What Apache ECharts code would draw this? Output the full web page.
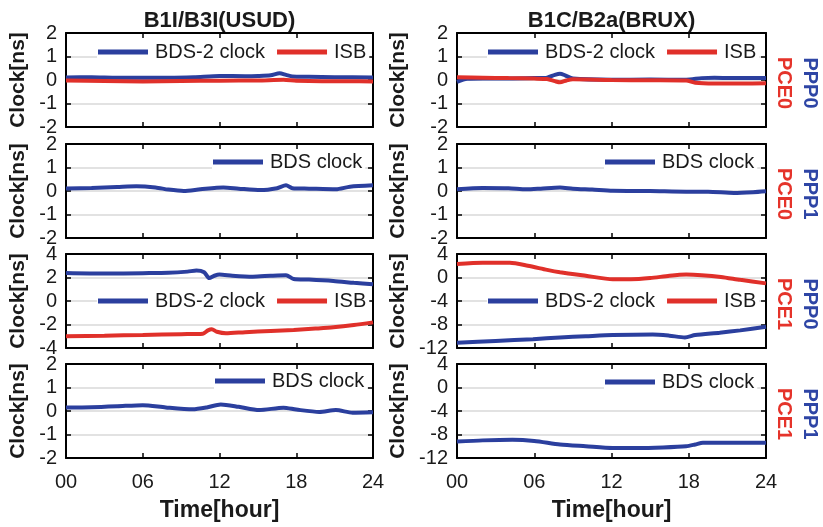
<!DOCTYPE html>
<html><head><meta charset="utf-8">
<script src="https://cdn.jsdelivr.net/npm/echarts@6/dist/echarts.min.js"></script>
<style>html,body{margin:0;padding:0;background:#fff}#c{width:823px;height:527px}</style>
</head><body><div id="c"></div>
<script>
// ---------- data ----------
const xTickLabels = ['00', '06', '12', '18', '24'];
const colTitles = ['B1I/B3I(USUD)', 'B1C/B2a(BRUX)'];
const rowTagsRed = ['PCE0', 'PCE0', 'PCE1', 'PCE1'];
const rowTagsBlue = ['PPP0', 'PPP1', 'PPP0', 'PPP1'];

// row 1 (PPP0-PCE0), left column
const r1lBdsH = [0, 2, 4, 6, 8, 10, 12, 14, 15, 16, 16.7, 17.2, 17.7, 19, 21, 24];
const r1lBdsV = [0.11, 0.12, 0.10, 0.10, 0.10, 0.12, 0.17, 0.16, 0.17, 0.20, 0.29, 0.22, 0.15, 0.14, 0.12, 0.11];
const r1lIsbH = [0, 3, 6, 9, 12, 15, 17, 18, 20, 22, 24];
const r1lIsbV = [-0.02, -0.04, -0.06, -0.04, -0.03, -0.02, 0.01, -0.03, -0.05, -0.05, -0.06];
// row 1, right column
const r1rBdsH = [0, 0.8, 2, 4, 6, 7, 7.6, 8, 8.4, 9, 12, 15, 17.8, 19, 20, 22, 24];
const r1rBdsV = [-0.08, 0.05, 0.06, 0.06, 0.08, 0.10, 0.22, 0.27, 0.20, 0.06, 0.01, 0.02, 0.01, 0.08, 0.10, 0.08, 0.09];
const r1rIsbH = [0, 2, 4, 6, 7, 7.6, 8, 8.5, 9, 12, 15, 17.8, 18.5, 20, 22, 24];
const r1rIsbV = [0.12, 0.10, 0.08, 0.06, 0.04, -0.05, -0.10, -0.02, 0.03, 0.0, -0.01, -0.02, -0.12, -0.15, -0.15, -0.14];
// row 2 (PPP1-PCE0)
const r2lBdsH = [0, 2, 4, 5.5, 7, 8, 9.2, 10.5, 12.3, 13.5, 15.2, 16.5, 17.2, 17.7, 19, 21.1, 22.2, 24];
const r2lBdsV = [0.11, 0.13, 0.17, 0.20, 0.15, 0.06, 0.0, 0.07, 0.15, 0.10, 0.04, 0.12, 0.24, 0.12, 0.10, 0.07, 0.18, 0.24];
const r2rBdsH = [0, 2, 4, 5.4, 6.5, 8, 9, 10.5, 12.1, 15, 17.8, 19.5, 21.5, 23, 24];
const r2rBdsV = [0.07, 0.13, 0.12, 0.07, 0.10, 0.15, 0.10, 0.06, 0.01, 0.0, -0.03, -0.03, -0.08, -0.05, -0.01];
// row 3 (PPP0-PCE1)
const r3lBdsH = [0, 3, 6, 8, 9.5, 10.2, 10.8, 11.2, 11.6, 12, 13, 14.6, 16, 17.2, 17.8, 19, 20.9, 22.5, 24];
const r3lBdsV = [2.38, 2.33, 2.37, 2.40, 2.50, 2.60, 2.45, 1.95, 2.15, 2.25, 2.15, 2.07, 2.15, 2.20, 1.87, 1.82, 1.70, 1.55, 1.42];
const r3lIsbH = [0, 3, 6, 9, 10.7, 11.1, 11.4, 11.8, 12.5, 14, 16, 17.8, 19.5, 20.9, 22.5, 24];
const r3lIsbV = [-3.0, -2.95, -2.89, -2.82, -2.78, -2.5, -2.41, -2.62, -2.75, -2.65, -2.55, -2.47, -2.35, -2.24, -2.05, -1.82];
const r3rBdsH = [0, 3, 5.9, 8, 10, 12.1, 15.2, 16.5, 17.7, 18.5, 20.4, 22, 24];
const r3rBdsV = [-11.1, -10.8, -10.5, -10.2, -10.0, -9.8, -9.7, -9.9, -10.2, -9.8, -9.4, -9.0, -8.4];
const r3rIsbH = [0, 2, 4.1, 5.5, 7, 8, 10, 12.1, 13.5, 15, 16.5, 17.8, 19, 20.5, 22, 24];
const r3rIsbV = [2.3, 2.5, 2.5, 2.0, 1.3, 0.9, 0.3, -0.3, -0.3, -0.1, 0.3, 0.5, 0.4, 0.1, -0.4, -1.0];
// row 4 (PPP1-PCE1)
const r4lBdsH = [0, 2, 4, 6, 7.8, 9.9, 11, 12.1, 13.5, 15.1, 17, 18, 19.8, 21.1, 22.4, 24];
const r4lBdsV = [0.15, 0.16, 0.20, 0.25, 0.15, 0.07, 0.15, 0.28, 0.18, 0.04, 0.14, 0.06, -0.04, 0.04, -0.07, -0.05];
const r4rBdsH = [0, 2, 4.3, 6, 8, 10, 12.1, 14, 16, 17.8, 18.5, 19.1, 21, 24];
const r4rBdsV = [-9.2, -9.0, -8.9, -9.1, -9.7, -10.0, -10.3, -10.3, -10.2, -10.0, -9.7, -9.4, -9.4, -9.4];

// y axis ranges per panel [min, max, interval]
const yRangeSmall = [-2, 2, 1];
const yRangeMid = [-4, 4, 2];
const yRangeBig = [-12, 4, 4];

// ---------- layout / style ----------
const BLUE = '#2b3f9e', RED = '#e0302a', TXT = '#1a1a1a';
const FONT = '"Liberation Sans", Arial, Helvetica, sans-serif';
const colLeft = [66, 457], colWidth = [307, 309];
const rowTop = [33, 144, 254, 364], rowH = 94;

const zip = (h, v) => h.map((x, i) => [x, v[i]]);

const panels = [
  { r: 0, c: 0, y: yRangeSmall, series: [['BDS-2 clock', BLUE, r1lBdsH, r1lBdsV], ['ISB', RED, r1lIsbH, r1lIsbV]], leg: [98, 52] },
  { r: 0, c: 1, y: yRangeSmall, series: [['BDS-2 clock', BLUE, r1rBdsH, r1rBdsV], ['ISB', RED, r1rIsbH, r1rIsbV]], leg: [488, 52] },
  { r: 1, c: 0, y: yRangeSmall, series: [['BDS clock', BLUE, r2lBdsH, r2lBdsV]], leg: [213, 162] },
  { r: 1, c: 1, y: yRangeSmall, series: [['BDS clock', BLUE, r2rBdsH, r2rBdsV]], leg: [605, 162] },
  { r: 2, c: 0, y: yRangeMid, series: [['BDS-2 clock', BLUE, r3lBdsH, r3lBdsV], ['ISB', RED, r3lIsbH, r3lIsbV]], leg: [98, 301] },
  { r: 2, c: 1, y: yRangeBig, series: [['BDS-2 clock', BLUE, r3rBdsH, r3rBdsV], ['ISB', RED, r3rIsbH, r3rIsbV]], leg: [488, 301] },
  { r: 3, c: 0, y: yRangeSmall, series: [['BDS clock', BLUE, r4lBdsH, r4lBdsV]], leg: [215, 381] },
  { r: 3, c: 1, y: yRangeBig, series: [['BDS clock', BLUE, r4rBdsH, r4rBdsV]], leg: [605, 382] }
];

const grid = [], xAxis = [], yAxis = [], series = [], legend = [], graphic = [];
const axLine = { show: true, onZero: false, lineStyle: { color: '#000', width: 2 } };
const tick = { show: true, inside: true, length: 5, lineStyle: { color: '#000', width: 1.5 } };

panels.forEach((p, i) => {
  grid.push({ left: colLeft[p.c], top: rowTop[p.r], width: colWidth[p.c], height: rowH, containLabel: false, outerBoundsMode: 'none' });
  const bottomRow = p.r === 3;
  xAxis.push({
    type: 'value', gridIndex: i, min: 0, max: 24, interval: 6, position: 'bottom',
    axisLine: axLine, axisTick: tick, splitLine: { show: false },
    axisLabel: { show: bottomRow, fontSize: 20, color: TXT, fontFamily: FONT, margin: 14,
      formatter: v => xTickLabels[Math.round(v / 6)] },
    name: bottomRow ? 'Time[hour]' : '', nameLocation: 'middle', nameGap: 41,
    nameTextStyle: { fontSize: 23, fontWeight: 'bold', color: TXT, fontFamily: FONT }
  });
  xAxis.push({
    type: 'value', gridIndex: i, min: 0, max: 24, interval: 6, position: 'top',
    axisLine: axLine, axisTick: tick, splitLine: { show: false }, axisLabel: { show: false }
  });
  yAxis.push({
    type: 'value', gridIndex: i, min: p.y[0], max: p.y[1], interval: p.y[2], position: 'left',
    axisLine: axLine, axisTick: tick,
    splitLine: { show: true, lineStyle: { color: '#d9d9d9', width: 1.5 } },
    axisLabel: { fontSize: 20, color: TXT, fontFamily: FONT, margin: 9 },
    name: 'Clock[ns]', nameLocation: 'middle', nameRotate: 90, nameGap: p.c === 0 ? 37 : 48,
    nameTextStyle: { fontSize: 21, fontWeight: 'bold', color: TXT, fontFamily: FONT }
  });
  yAxis.push({
    type: 'value', gridIndex: i, min: p.y[0], max: p.y[1], interval: p.y[2], position: 'right',
    axisLine: axLine, axisTick: tick, splitLine: { show: false }, axisLabel: { show: false }
  });
  p.series.forEach(([name, color, h, v]) => {
    series.push({
      type: 'line', name, xAxisIndex: 2 * i, yAxisIndex: 2 * i, data: zip(h, v),
      showSymbol: false, smooth: 0.25, color, lineStyle: { color, width: 4 }, z: 3
    });
  });
  legend.push({
    data: p.series.map(s => s[0]), left: p.leg[0] - 1, top: p.leg[1] - 12,
    orient: 'horizontal', icon: 'rect', itemWidth: 50, itemHeight: 5, itemGap: 12,
    backgroundColor: '#fff', padding: [1, 3, 1, 1], selectedMode: false,
    textStyle: { fontSize: 20, color: TXT, fontFamily: FONT, lineHeight: 22, padding: [0, 0, 0, 2] }
  });
});

colTitles.forEach((t, c) => {
  graphic.push({ type: 'text', x: colLeft[c] + colWidth[c] / 2, y: 21, z: 10,
    style: { text: t, fill: TXT, font: 'bold 22px ' + FONT, textAlign: 'center', textVerticalAlign: 'middle' } });
});
rowTop.forEach((t, r) => {
  const cy = t + rowH / 2 + 3;
  graphic.push({ type: 'text', x: 784, y: cy, rotation: -Math.PI / 2, z: 10,
    style: { text: rowTagsRed[r], fill: '#e5332a', font: 'bold 20px ' + FONT, textAlign: 'center', textVerticalAlign: 'middle' } });
  graphic.push({ type: 'text', x: 810, y: cy, rotation: -Math.PI / 2, z: 10,
    style: { text: rowTagsBlue[r], fill: '#2e45a5', font: 'bold 20px ' + FONT, textAlign: 'center', textVerticalAlign: 'middle' } });
});

const chart = echarts.init(document.getElementById('c'), null, { renderer: 'canvas' });
chart.setOption({ animation: false, backgroundColor: '#fff', grid, xAxis, yAxis, series, legend, graphic });
</script>
</body></html>
